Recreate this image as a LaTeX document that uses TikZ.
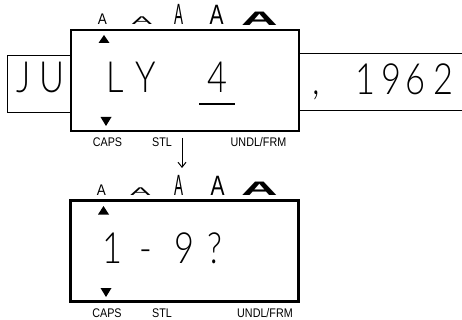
\documentclass[tikz,border=0pt]{standalone}
\usepackage{fontspec}
\setmainfont{Liberation Sans}
\IfFontExistsTF{Lato Light}{\newfontfamily\lcdfont{Lato Light}}{\newfontfamily\lcdfont{Liberation Sans}}
\usetikzlibrary{arrows.meta}
\newcommand\sq[2]{\scalebox{#1}[1]{#2}}
\begin{document}
\begin{tikzpicture}[x=1pt,y=-1pt,
  lcd/.style={anchor=base, inner sep=0pt, font=\lcdfont\fontsize{43}{43}\selectfont},
  lbl/.style={anchor=base, inner sep=0pt, font=\fontsize{12.5}{12.5}\selectfont},
  disp/.style={draw, line width=2.2pt, minimum width=228pt, minimum height=101pt, inner sep=0pt},
  tab/.style={draw, line width=1pt},
  tri/.style={fill=black},
  stylea/.style={anchor=base, inner sep=0pt}
]
\useasboundingbox (0,0) rectangle (462,320);
% side tabs
\draw[tab] (71,56) -- (7,56) -- (7,113) -- (71,113);
\draw[tab] (299,54) -- (462,54);
\draw[tab] (299,111) -- (462,111);
% displays
\node[disp] (d1) at (185,80.5) {};
\node[disp] (d2) at (184.5,251) {};
% style indicators, top
\node[stylea, font=\fontsize{15.4}{15.4}\selectfont] (a1) at (102.5,25) {\sq{0.88}{A}};
\node[stylea, font=\fontsize{11.2}{11.2}\selectfont] (a2) at (142,25) {\sq{2.7}{A}};
\node[stylea, font=\fontsize{29.3}{29.3}\selectfont] (a3) at (178.5,25) {\sq{0.46}{A}};
\node[stylea, font=\fontsize{28}{28}\selectfont] (a4) at (216.5,25) {\sq{0.75}{A}};
\node[stylea, font=\bfseries\fontsize{19.5}{19.5}\selectfont] (a5) at (259.5,25.5) {\sq{2.6}{A}};
% style indicators, bottom
\node[stylea, font=\fontsize{15.4}{15.4}\selectfont] (b1) at (101.5,195) {\sq{0.88}{A}};
\node[stylea, font=\fontsize{11.2}{11.2}\selectfont] (b2) at (140.5,195) {\sq{2.7}{A}};
\node[stylea, font=\fontsize{29.3}{29.3}\selectfont] (b3) at (178.5,195) {\sq{0.46}{A}};
\node[stylea, font=\fontsize{28}{28}\selectfont] (b4) at (217.5,195) {\sq{0.75}{A}};
\node[stylea, font=\bfseries\fontsize{19.5}{19.5}\selectfont] (b5) at (259.5,195.5) {\sq{2.6}{A}};
% triangles
\fill[tri] (104,35) -- (98.5,43) -- (109.5,43) -- cycle;
\fill[tri] (100.5,117) -- (111.5,117) -- (106,126) -- cycle;
\fill[tri] (103.5,206) -- (98,214.5) -- (109,214.5) -- cycle;
\fill[tri] (100.5,288) -- (111.5,288) -- (106,297) -- cycle;
% top text
\node[lcd] (cj) at (24,93) {\sq{0.8}{J}};
\node[lcd] (cu) at (52.5,93) {\sq{0.8}{U}};
\node[lcd] (cl) at (115,93) {\sq{0.8}{L}};
\node[lcd] (cy) at (146,93) {\sq{0.8}{Y}};
\node[lcd] (c4) at (217,93) {\sq{0.8}{4}};
\draw[line width=1.3pt] (199,104) -- (235,104);
\node[lcd] (cc) at (316,95) {\sq{0.8}{,}};
\node[lcd] (n1) at (365,95) {\sq{0.8}{1}};
\node[lcd] (n9) at (391,95) {\sq{0.8}{9}};
\node[lcd] (n6) at (415,95) {\sq{0.8}{6}};
\node[lcd] (n2) at (443,95) {\sq{0.8}{2}};
% bottom text
\node[lcd] (m1) at (112,263) {\sq{0.8}{1}};
\node[lcd] (mh) at (146,263) {\sq{0.8}{-}};
\node[lcd] (m9) at (184.5,263) {\sq{0.8}{9}};
\node[lcd] (mq) at (215,263) {\sq{0.8}{?}};
% labels
\node[lbl] (l1) at (107.5,147) {\sq{0.86}{CAPS}};
\node[lbl] (l2) at (162,147) {\sq{0.86}{STL}};
\node[lbl] (l3) at (258.5,147) {\sq{0.86}{UNDL/FRM}};
\node[lbl] (k1) at (107,317) {\sq{0.86}{CAPS}};
\node[lbl] (k2) at (162,317) {\sq{0.86}{STL}};
\node[lbl] (k3) at (265,317) {\sq{0.86}{UNDL/FRM}};
% arrow
\coordinate (as) at (182,138);
\coordinate (ae) at (182,168);
\draw[line width=1pt, -{Straight Barb[length=5pt,width=8pt]}] (as) -- (ae);
\end{tikzpicture}
\end{document}
